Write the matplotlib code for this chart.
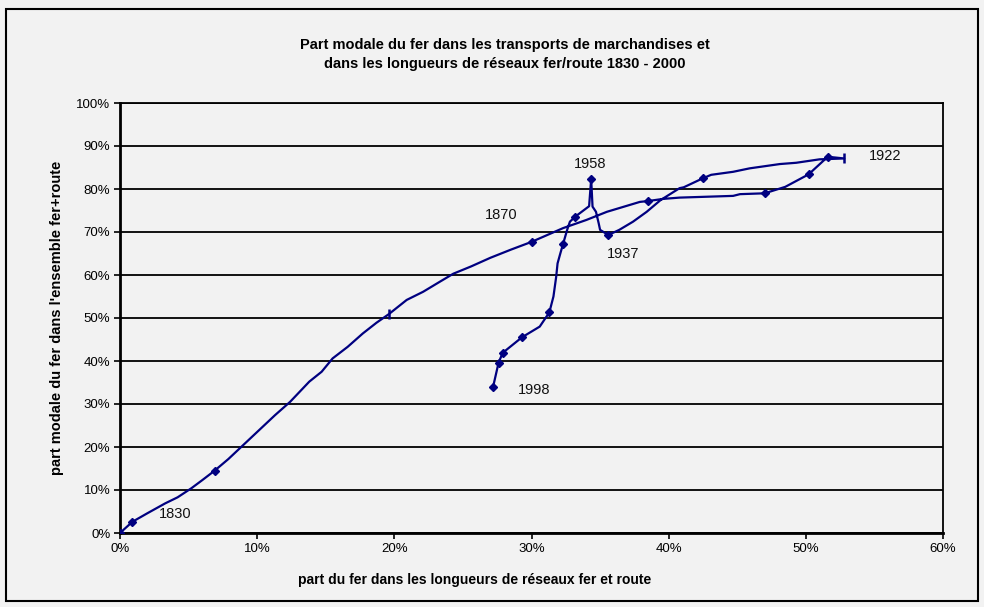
import matplotlib
matplotlib.use("Agg")
from matplotlib import pyplot as plt
from matplotlib.patches import Rectangle
from matplotlib.ticker import PercentFormatter

plt.rcParams['font.family'] = ['Liberation Sans', 'DejaVu Sans']

# part du fer dans les longueurs de reseaux (%), 1830 -> 1922 -> 1998
reseau = [0.0, 0.9, 2.0, 3.3, 4.2, 5.2, 6.0, 6.9, 7.9, 8.9, 10.1, 11.3, 12.4, 13.8,
          14.7, 15.5, 16.6, 17.7, 18.7, 19.6, 20.9, 22.1, 23.3, 24.3, 25.6, 27.0,
          28.5, 30.0, 32.3, 34.0, 35.5, 37.9, 38.5, 39.6, 40.8, 44.7, 45.2, 47.0,
          48.5, 50.2, 51.6, 52.8,
          51.0, 49.3, 48.1, 45.9, 44.7, 43.1, 42.5, 41.1, 40.8, 39.4, 38.4, 37.4,
          36.4, 35.6, 35.0, 34.9, 34.7, 34.45, 34.35, 34.2, 33.2, 32.8, 32.6, 32.3,
          32.1, 31.9, 31.8, 31.6, 31.3, 30.6, 29.3, 27.9, 27.6, 27.2]
# part modale du fer dans l'ensemble fer+route (%)
modale = [0.0, 2.6, 4.6, 6.9, 8.3, 10.4, 12.3, 14.5, 17.2, 20.2, 23.8, 27.4, 30.5, 35.2,
          37.5, 40.6, 43.3, 46.4, 48.9, 50.9, 54.2, 56.1, 58.4, 60.3, 62.0, 64.0,
          65.9, 67.7, 70.9, 72.8, 74.7, 77.0, 77.2, 77.7, 78.0, 78.4, 78.8, 79.0,
          80.5, 83.4, 87.5, 87.1,
          86.9, 86.1, 85.8, 84.8, 84.0, 83.3, 82.5, 80.4, 80.2, 77.4, 74.7, 72.4,
          70.5, 69.3, 70.5, 72.0, 74.7, 75.9, 82.3, 76.0, 73.6, 72.4, 70.5, 67.2,
          65.0, 62.7, 59.6, 55.0, 51.3, 48.0, 45.5, 41.9, 39.6, 34.0]
diamond_idx = [0, 1, 7, 27, 32, 37, 39, 40, 48, 55, 60, 62, 65, 70, 72, 73, 74, 75]
tick_idx = [19, 41]

annees = ['1830', '1870', '1922', '1937', '1958', '1998']
annee_pos = [(4.0, 4.5), (27.8, 74.0), (55.8, 87.6), (36.7, 64.8), (34.3, 85.8), (30.2, 33.3)]

navy = '#000080'
bg = '#f2f2f2'

fig = plt.figure(figsize=(9.84, 6.07), dpi=100, facecolor=bg)
ax = fig.add_axes([120 / 984, 74 / 607, 823 / 984, 430 / 607])
ax.set_facecolor(bg)

ax.plot(reseau, modale, color=navy, lw=1.6, zorder=3)
ax.plot([reseau[i] for i in diamond_idx], [modale[i] for i in diamond_idx],
        ls='none', marker='D', ms=4.5, color=navy, zorder=4)
ax.plot([reseau[i] for i in tick_idx], [modale[i] for i in tick_idx],
        ls='none', marker='|', ms=6.5, mew=1.8, color=navy, zorder=4)

for lab, (xx, yy) in zip(annees, annee_pos):
    ax.text(xx, yy, lab, fontsize=10.5, ha='center', va='center', color='#111111')

ax.set_xlim(0, 60)
ax.set_ylim(0, 100)
ax.set_xticks(range(0, 61, 10))
ax.set_yticks(range(0, 101, 10))
ax.xaxis.set_major_formatter(PercentFormatter(decimals=0))
ax.yaxis.set_major_formatter(PercentFormatter(decimals=0))
ax.tick_params(direction='out', length=4, width=1.2, labelsize=9.5, colors='black', pad=3)
ax.grid(axis='y', color='black', lw=1.3)
ax.set_axisbelow(True)
for s in ax.spines.values():
    s.set_color('black')
    s.set_linewidth(1.3)
ax.spines['left'].set_linewidth(2)
ax.spines['bottom'].set_linewidth(2)

fig.text(505 / 984, 1 - 45 / 607, 'Part modale du fer dans les transports de marchandises et',
         ha='center', va='center', fontsize=10.5, fontweight='bold')
fig.text(505 / 984, 1 - 64 / 607, 'dans les longueurs de réseaux fer/route 1830 - 2000',
         ha='center', va='center', fontsize=10.5, fontweight='bold')
fig.text(475 / 984, 1 - 580 / 607, 'part du fer dans les longueurs de réseaux fer et route',
         ha='center', va='center', fontsize=10, fontweight='bold')
fig.text(57 / 984, 1 - 318 / 607, "part modale du fer dans l'ensemble fer+route",
         ha='center', va='center', rotation=90, fontsize=10.5, fontweight='bold')

fig.patches.append(Rectangle((6 / 984, 1 - 601 / 607), 972 / 984, 592 / 607,
                             transform=fig.transFigure, fill=False, ec='black', lw=1.5))

fig.savefig('out.png', dpi=100, facecolor=bg)
